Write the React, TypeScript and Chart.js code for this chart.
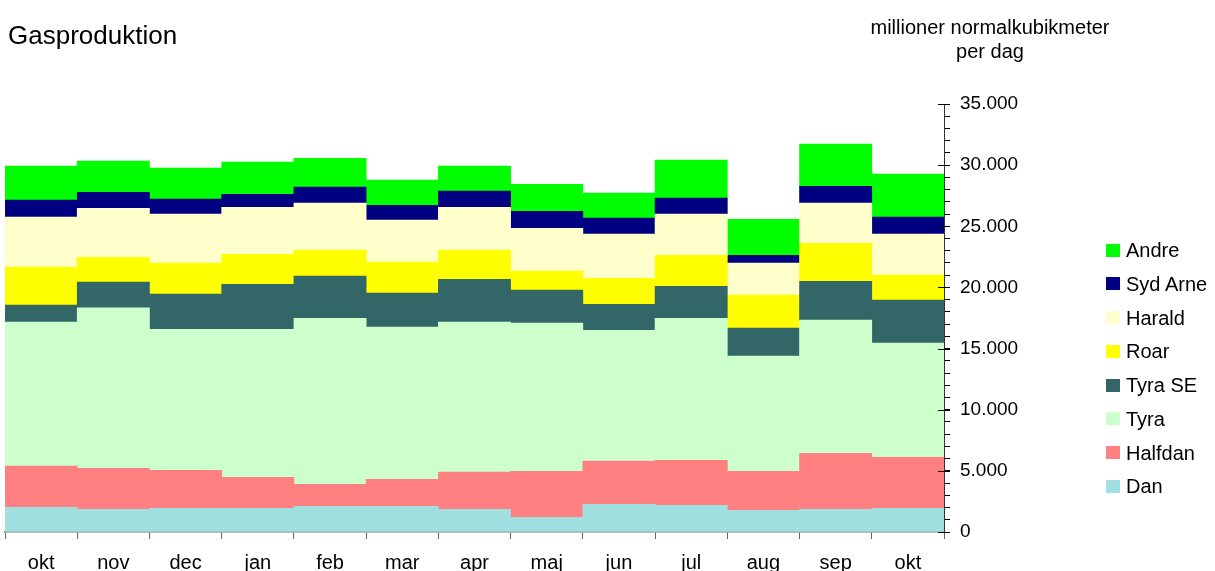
import React, { useEffect, useRef } from "react";
import { Chart, registerables } from "chart.js";

Chart.register(...registerables);

const months = ["okt", "nov", "dec", "jan", "feb", "mar", "apr", "maj", "jun", "jul", "aug", "sep", "okt"];

const dan = [2020, 1860, 1940, 1940, 2090, 2090, 1860, 1200, 2270, 2190, 1780, 1860, 1940];
const halfdan = [3380, 3350, 3110, 2540, 1810, 2220, 3030, 3770, 3520, 3680, 3190, 4580, 4170];
const tyra = [11760, 13120, 11520, 12090, 13580, 12440, 12270, 12110, 10700, 11610, 9410, 10890, 9330];
const tyraSE = [1390, 2100, 2880, 3690, 3440, 2780, 3510, 2700, 2130, 2620, 2290, 3170, 3520];
const roar = [3110, 2030, 2540, 2450, 2130, 2540, 2380, 1550, 2130, 2530, 2700, 3110, 2040];
const harald = [4090, 4010, 4000, 3850, 3840, 3430, 3510, 3510, 3610, 3360, 2620, 3280, 3360];
const sydArne = [1390, 1310, 1230, 1060, 1320, 1220, 1310, 1390, 1310, 1310, 640, 1380, 1390];
const andre = [2790, 2560, 2550, 2640, 2350, 2050, 2060, 2210, 2040, 3110, 2940, 3450, 3510];

const seriesNames = ["Dan", "Halfdan", "Tyra", "Tyra SE", "Roar", "Harald", "Syd Arne", "Andre"];
const seriesValues = [dan, halfdan, tyra, tyraSE, roar, harald, sydArne, andre];
const seriesColors = ["#A0E0E0", "#FF8080", "#CCFFCC", "#336666", "#FFFF00", "#FFFFCC", "#000080", "#00FF00"];

const yMax = 35000;
const yStep = 1000;
const yMajor = 5000;

const titleText = "Gasproduktion";
const unitLines = ["millioner normalkubikmeter", "per dag"];

const FONT = "'Liberation Sans', Arial, Helvetica, sans-serif";

function fmt(v: number): string {
  return String(v).replace(/\B(?=(\d{3})+(?!\d))/g, ".");
}

const majorTicksPlugin = {
  id: "majorTicks",
  afterDraw(chart: any) {
    const y = chart.scales.y;
    const ctx = chart.ctx;
    const x = chart.chartArea.right;
    ctx.save();
    ctx.strokeStyle = "#000";
    ctx.lineWidth = 1;
    for (let v = 0; v <= yMax; v += yMajor) {
      const py = Math.round(y.getPixelForValue(v)) + 0.5;
      ctx.beginPath();
      ctx.moveTo(x - 6, py);
      ctx.lineTo(x + 6, py);
      ctx.stroke();
    }
    ctx.restore();
  },
};

export default function App() {
  const ref = useRef<HTMLCanvasElement | null>(null);

  useEffect(() => {
    if (!ref.current) return;
    const chart = new Chart(ref.current, {
      type: "bar",
      data: {
        labels: months,
        datasets: seriesNames.map((name, i) => ({
          label: name,
          data: seriesValues[i],
          backgroundColor: seriesColors[i],
          borderWidth: 0,
          categoryPercentage: 1,
          barPercentage: 1,
        })),
      },
      options: {
        animation: false,
        responsive: false,
        maintainAspectRatio: false,
        layout: { padding: { left: 5, right: 0, top: 104, bottom: 0 } },
        plugins: {
          legend: { display: false },
          title: { display: false },
          tooltip: { enabled: false },
        },
        scales: {
          x: {
            stacked: true,
            offset: true,
            grid: {
              display: true,
              offset: true,
              drawOnChartArea: false,
              drawTicks: true,
              tickLength: 7,
              color: "#666",
              lineWidth: 1,
            },
            border: { display: true, color: "#777", width: 1.5 },
            ticks: {
              color: "#000",
              font: { family: FONT, size: 20 },
              padding: 12,
              maxRotation: 0,
              autoSkip: false,
            },
            afterFit(scale: any) {
              scale.height = 39;
            },
          },
          y: {
            stacked: true,
            position: "right",
            min: 0,
            max: yMax,
            grid: {
              display: true,
              drawOnChartArea: false,
              drawTicks: true,
              tickLength: 6,
              color: "#000",
              lineWidth: 1,
            },
            border: { display: true, color: "#333", width: 1 },
            ticks: {
              stepSize: yStep,
              autoSkip: false,
              color: "#000",
              font: { family: FONT, size: 19 },
              padding: 10,
              callback: (v: any) => (Number(v) % yMajor === 0 ? fmt(Number(v)) : ""),
            },
            afterFit(scale: any) {
              scale.width = 271;
            },
          },
        },
      },
      plugins: [majorTicksPlugin],
    } as any);
    return () => chart.destroy();
  }, []);

  const legendOrder = [...seriesNames.keys()].reverse();

  return (
    <div
      style={{
        position: "fixed",
        left: 0,
        top: 0,
        width: 1215,
        height: 571,
        background: "#fff",
        overflow: "hidden",
        fontFamily: FONT,
        color: "#000",
      }}
    >
      <canvas ref={ref} width={1215} height={571} style={{ position: "absolute", left: 0, top: 0, width: 1215, height: 571 }} />
      <div style={{ position: "absolute", left: 8, top: 20, fontSize: 26, lineHeight: "30px", whiteSpace: "nowrap" }}>{titleText}</div>
      <div style={{ position: "absolute", left: 840, top: 15, width: 300, textAlign: "center", fontSize: 20, lineHeight: "24px" }}>
        {unitLines.map((l, i) => (
          <div key={i}>{l}</div>
        ))}
      </div>
      {legendOrder.map((si, i) => (
        <React.Fragment key={si}>
          <div
            style={{
              position: "absolute",
              left: 1106,
              top: 243.5 + i * 33.75,
              width: 14,
              height: 13,
              background: seriesColors[si],
            }}
          />
          <div
            style={{
              position: "absolute",
              left: 1126,
              top: 238 + i * 33.75,
              fontSize: 20,
              lineHeight: "24px",
              whiteSpace: "nowrap",
            }}
          >
            {seriesNames[si]}
          </div>
        </React.Fragment>
      ))}
    </div>
  );
}
